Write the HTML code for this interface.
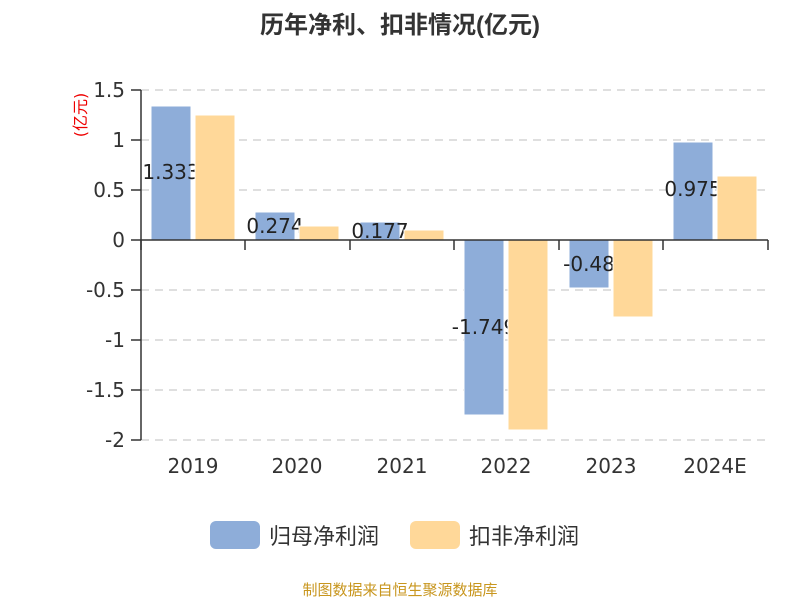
<!DOCTYPE html>
<html><head><meta charset="utf-8"><style>body{margin:0;background:#fff}svg{display:block}</style></head><body>
<svg width="800" height="600" xmlns="http://www.w3.org/2000/svg" font-family="'DejaVu Sans','Noto Sans CJK SC',sans-serif">
<rect width="800" height="600" fill="#fff"/>
<text x="400" y="33" text-anchor="middle" font-size="24" font-weight="bold" fill="#333" font-family="'Liberation Sans','Noto Sans CJK SC',sans-serif">历年净利、扣非情况(亿元)</text>
<g stroke="#ccc" stroke-dasharray="8,6" stroke-width="1.3">
<line x1="141" y1="90" x2="768" y2="90"/><line x1="141" y1="140" x2="768" y2="140"/><line x1="141" y1="190" x2="768" y2="190"/>
<line x1="141" y1="290" x2="768" y2="290"/><line x1="141" y1="340" x2="768" y2="340"/><line x1="141" y1="390" x2="768" y2="390"/><line x1="141" y1="440" x2="768" y2="440"/>
</g>
<g stroke="#333" stroke-width="1.5">
<line x1="141" y1="90" x2="141" y2="440"/>
<line x1="131" y1="90" x2="141" y2="90"/><line x1="131" y1="140" x2="141" y2="140"/><line x1="131" y1="190" x2="141" y2="190"/><line x1="131" y1="240" x2="141" y2="240"/><line x1="131" y1="290" x2="141" y2="290"/><line x1="131" y1="340" x2="141" y2="340"/><line x1="131" y1="390" x2="141" y2="390"/><line x1="131" y1="440" x2="141" y2="440"/>
</g>
<g font-size="20" fill="#333" text-anchor="end">
<text x="125" y="97">1.5</text><text x="125" y="147">1</text><text x="125" y="197">0.5</text><text x="125" y="247">0</text><text x="125" y="297">-0.5</text><text x="125" y="347">-1</text><text x="125" y="397">-1.5</text><text x="125" y="447">-2</text>
</g>
<text transform="translate(86,115) rotate(-90)" text-anchor="middle" font-size="16" fill="#e00">(亿元)</text>
<g fill="#8eadd9" stroke="#fff" stroke-width="1">
<rect x="151" y="106" width="40" height="134"/><rect x="255" y="212" width="40" height="28"/><rect x="360" y="222" width="40" height="18"/>
<rect x="464" y="240" width="40" height="175"/><rect x="569" y="240" width="40" height="48"/><rect x="673" y="142" width="40" height="98"/>
</g>
<g font-size="20" fill="#222" text-anchor="middle">
<text x="171" y="179">1.333</text><text x="275" y="233">0.274</text><text x="380" y="238">0.177</text>
<text x="484" y="334">-1.749</text><text x="589" y="271">-0.48</text><text x="693" y="196">0.975</text>
</g>
<g fill="#ffd899" stroke="#fff" stroke-width="1">
<rect x="195" y="115" width="40" height="125"/><rect x="299" y="226" width="40" height="14"/><rect x="404" y="230" width="40" height="10"/>
<rect x="508" y="240" width="40" height="190"/><rect x="613" y="240" width="40" height="77"/><rect x="717" y="176" width="40" height="64"/>
</g>
<g stroke="#333" stroke-width="1.5">
<line x1="141" y1="240" x2="768" y2="240"/>
<line x1="141" y1="240" x2="141" y2="250"/><line x1="245" y1="240" x2="245" y2="250"/><line x1="350" y1="240" x2="350" y2="250"/><line x1="454" y1="240" x2="454" y2="250"/><line x1="559" y1="240" x2="559" y2="250"/><line x1="663" y1="240" x2="663" y2="250"/><line x1="768" y1="240" x2="768" y2="250"/>
</g>
<g font-size="20" fill="#333" text-anchor="middle">
<text x="193" y="473">2019</text><text x="297" y="473">2020</text><text x="402" y="473">2021</text><text x="506" y="473">2022</text><text x="611" y="473">2023</text><text x="715" y="473">2024E</text>
</g>
<rect x="210" y="521" width="50" height="28" rx="6" fill="#8eadd9"/>
<text x="269" y="544" font-size="22" fill="#333">归母净利润</text>
<rect x="410" y="521" width="50" height="28" rx="6" fill="#ffd899"/>
<text x="469" y="544" font-size="22" fill="#333">扣非净利润</text>
<text x="400" y="595" text-anchor="middle" font-size="15" fill="#c8961e">制图数据来自恒生聚源数据库</text>
</svg>
</body></html>
